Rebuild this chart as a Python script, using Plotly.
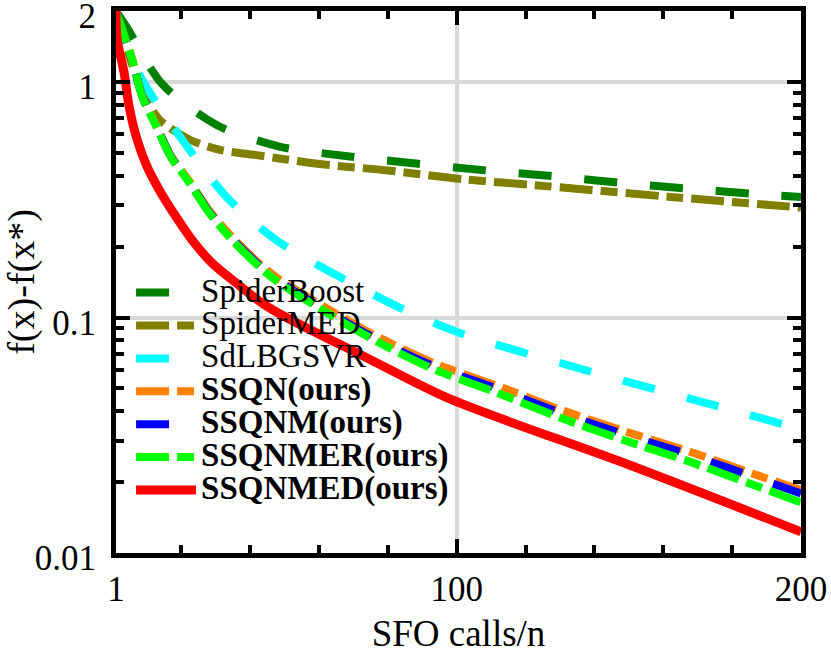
import plotly.graph_objects as go

# ---------------- data ----------------
names = ["SpiderBoost", "SpiderMED", "SdLBGSVR",
         "SSQN(ours)", "SSQNM(ours)", "SSQNMER(ours)", "SSQNMED(ours)"]
bold = [False, False, False, True, True, True, True]

spiderboost_x = [1, 4.2, 14.4, 30.4, 48.5, 68.9, 108.8, 128.3, 148.4, 168, 187.8, 200]
spiderboost_y = [2.0, 1.70, 0.98, 0.655, 0.532, 0.483, 0.421, 0.398, 0.372, 0.352, 0.334, 0.325]

spidermed_x = [1, 5.4, 9.2, 13.5, 22.3, 31.9, 40.6, 50.5, 61.6, 80, 102, 121.3, 161.3, 200]
spidermed_y = [2.0, 1.22, 0.88, 0.695, 0.570, 0.512, 0.492, 0.469, 0.446, 0.421, 0.386, 0.366, 0.326, 0.293]

sdlbgsvr_x = [1, 7.7, 20.2, 33.05, 47.6, 82.9, 100.9, 139.1, 177.9, 200]
sdlbgsvr_y = [2.0, 1.08, 0.570, 0.326, 0.213, 0.111, 0.086, 0.0588, 0.0412, 0.0336]

ssqn_x = [1, 5.66, 8.58, 12.66, 17.03, 22.27, 28.1, 34.8, 42.7, 48.5, 74.7, 93.1, 111.1, 129.5, 148.4, 167.4, 186, 200]
ssqn_y = [2.0, 1.26, 0.88, 0.657, 0.484, 0.380, 0.284, 0.219, 0.169, 0.145, 0.0862, 0.0642, 0.0517, 0.0409, 0.0330, 0.0270, 0.0217, 0.0185]

ssqnm_x = [1, 5.66, 8.58, 12.66, 17.03, 22.27, 28.1, 34.8, 42.7, 48.5, 74.7, 93.1, 111.1, 129.5, 148.4, 167.4, 186, 200]
ssqnm_y = [2.0, 1.25, 0.873, 0.652, 0.480, 0.376, 0.280, 0.215, 0.166, 0.142, 0.0838, 0.0623, 0.0502, 0.0397, 0.0320, 0.0262, 0.0211, 0.0179]

ssqnmer_x = [1, 5.66, 8.58, 12.66, 17.03, 22.27, 28.1, 34.8, 42.7, 48.5, 74.7, 93.1, 111.1, 129.5, 148.4, 167.4, 186, 200]
ssqnmer_y = [2.0, 1.25, 0.871, 0.649, 0.478, 0.374, 0.278, 0.213, 0.164, 0.140, 0.0822, 0.0605, 0.0483, 0.0378, 0.0302, 0.0245, 0.0195, 0.0164]

ssqnmed_x = [1, 1.29, 3.33, 4.79, 7.12, 10.03, 13.53, 18.48, 23.15, 28.97, 35.97, 43.5, 50.5, 73.8, 98, 149.6, 200]
ssqnmed_y = [2.0, 1.53, 1.10, 0.789, 0.570, 0.437, 0.349, 0.267, 0.213, 0.170, 0.140, 0.115, 0.100, 0.0675, 0.0451, 0.0238, 0.0123]

x_tickvals = [1, 100, 200]
x_ticktext = ["1", "100", "200"]
x_minor = [20, 40, 60, 80, 120, 140, 160, 180]
y_tickvals = [0.01, 0.1, 1, 2]
y_ticktext = ["0.01", "0.1", "1", "2"]
y_minor = [0.02, 0.03, 0.04, 0.05, 0.06, 0.07, 0.08, 0.09,
           0.2, 0.3, 0.4, 0.5, 0.6, 0.7, 0.8, 0.9]

# ---------------- styles ----------------
xs = [spiderboost_x, spidermed_x, sdlbgsvr_x, ssqn_x, ssqnm_x, ssqnmer_x, ssqnmed_x]
ys = [spiderboost_y, spidermed_y, sdlbgsvr_y, ssqn_y, ssqnm_y, ssqnmer_y, ssqnmed_y]
colors = ["#008000", "#808000", "#00FFFF", "#FF8000", "#0000FF", "#00FF00", "#FF0000"]
DASH = "33px,33px"
DASHDOT = "33px,8px,17px,8px"
dashes = [DASH, DASHDOT, DASH, DASHDOT, DASH, DASHDOT, "solid"]
widths = [8, 8, 8, 8, 8, 8, 9]

FONT = "Liberation Serif, Times New Roman, serif"

fig = go.Figure()
for x, y, n, b, c, d, w in zip(xs, ys, names, bold, colors, dashes, widths):
    label = f"<b>{n}</b>" if b else n
    label = f'<span style="font-size:33px">{label}</span>'
    fig.add_trace(go.Scatter(
        x=x, y=y, mode="lines", name=label,
        line=dict(color=c, width=w, dash=d, shape="spline", smoothing=0.8),
    ))

fig.update_layout(
    width=831, height=654,
    margin=dict(l=116, r=30, t=11, b=101),
    paper_bgcolor="white", plot_bgcolor="white",
    font=dict(family=FONT, color="black", size=35),
    showlegend=True,
    legend=dict(
        x=0.022, y=0.52, xanchor="left", yanchor="top",
        bgcolor="rgba(0,0,0,0)", borderwidth=0,
        font=dict(family=FONT, size=23, color="black"),
        itemwidth=60, tracegroupgap=0,
    ),
)

fig.update_xaxes(
    range=[1, 200], automargin=False,
    tickmode="array", tickvals=x_tickvals, ticktext=x_ticktext,
    ticks="inside", ticklen=14, tickwidth=4, tickcolor="black",
    showline=True, linewidth=5, linecolor="black", mirror="allticks",
    showgrid=True, gridcolor="#d9d9d9", gridwidth=4,
    zeroline=False,
    tickfont=dict(family=FONT, size=35, color="black"),
    ticklabelstandoff=1, ticklabeloverflow="allow",
    minor=dict(tickmode="array", tickvals=x_minor, ticks="inside", ticklen=8,
               tickwidth=4, tickcolor="black", showgrid=False),
    title=dict(text="SFO calls/n", font=dict(family=FONT, size=37, color="black"), standoff=15),
)

fig.update_yaxes(
    type="log", range=[-2, 0.3015], automargin=False,
    tickmode="array", tickvals=y_tickvals, ticktext=y_ticktext,
    ticks="inside", ticklen=14, tickwidth=4, tickcolor="black",
    showline=True, linewidth=5, linecolor="black", mirror="allticks",
    showgrid=True, gridcolor="#d9d9d9", gridwidth=4,
    zeroline=False,
    tickfont=dict(family=FONT, size=35, color="black"),
    ticklabelstandoff=8, ticklabeloverflow="allow", ticklabelshift=5,
    minor=dict(tickmode="array", tickvals=y_minor, ticks="inside", ticklen=8,
               tickwidth=4, tickcolor="black", showgrid=False),
    title=dict(text="f(x)-f(x*)", font=dict(family=FONT, size=38, color="black"), standoff=0),
)

fig.write_html("out.html", config={"displayModeBar": False},
               post_script="document.body.style.margin='0px';")
